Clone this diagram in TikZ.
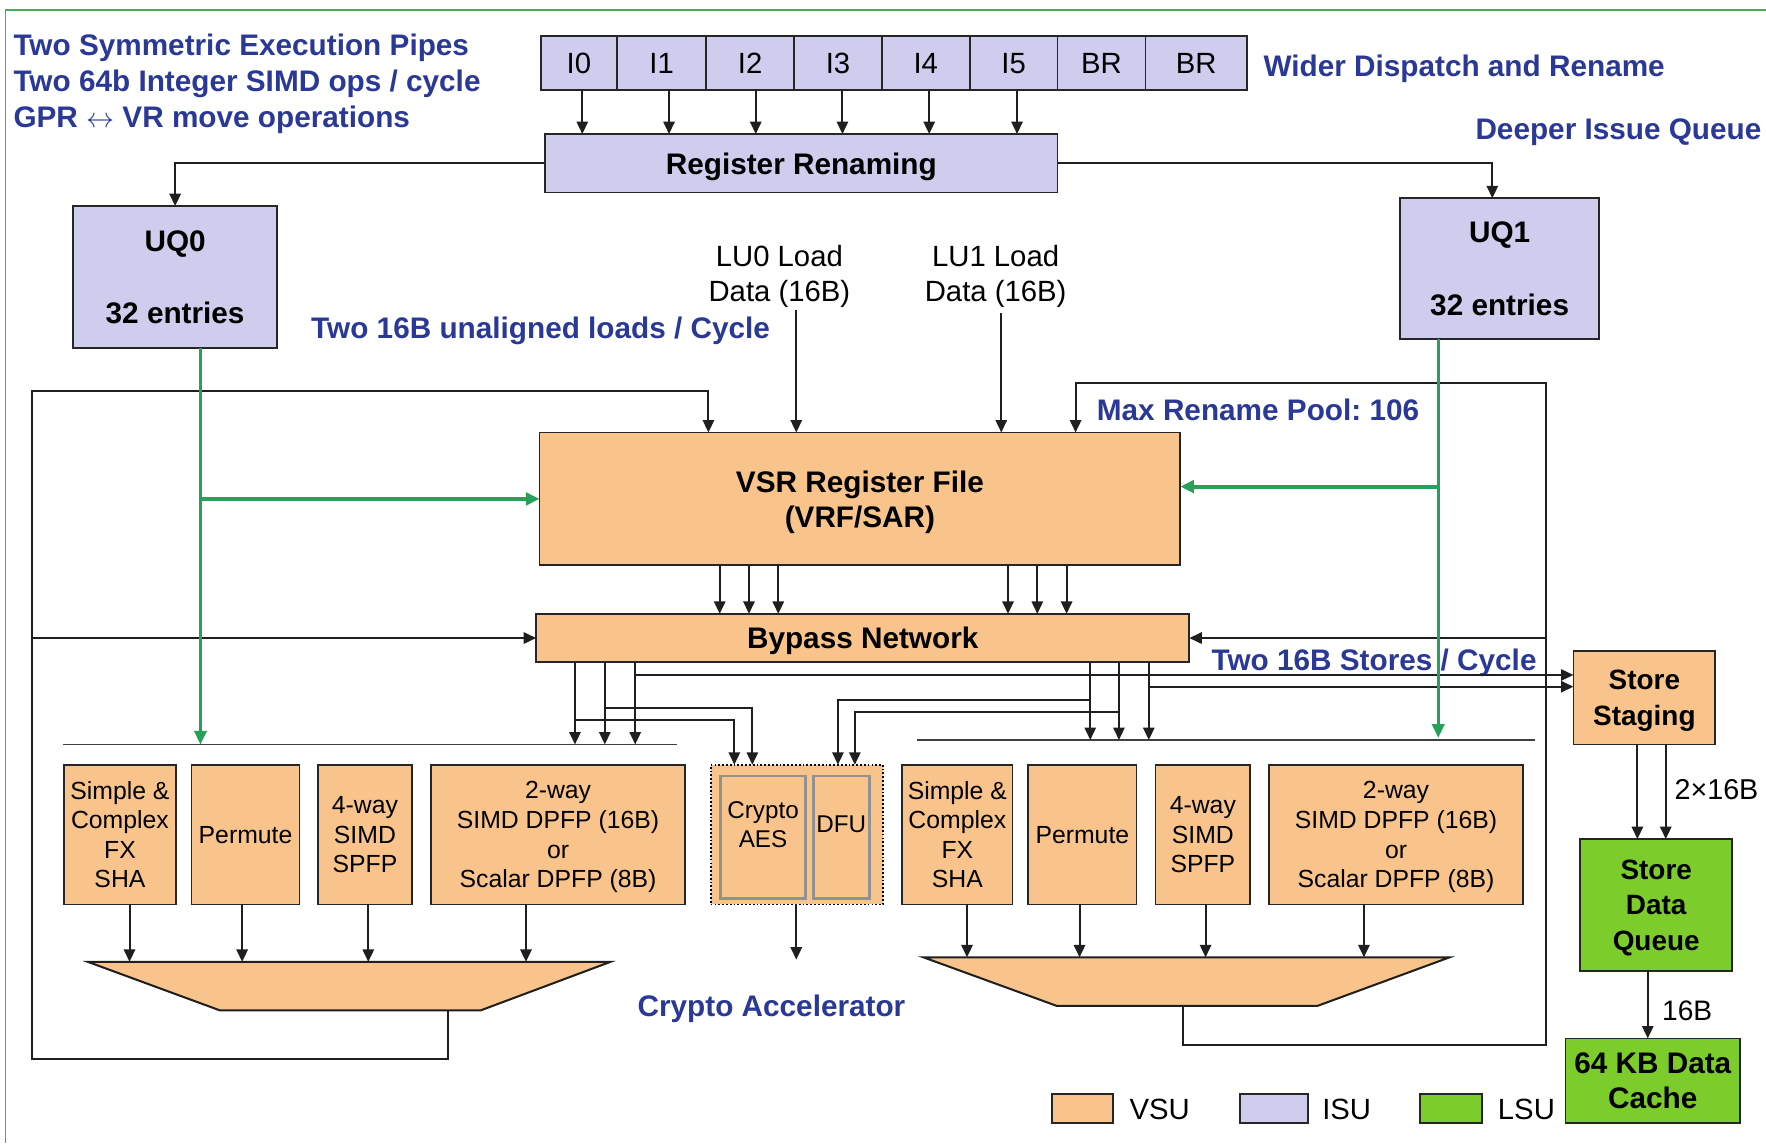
\documentclass[tikz,border=0pt]{standalone}
\usepackage{fontspec}
\setmainfont{Liberation Sans}
\usetikzlibrary{arrows.meta,calc}
\frenchspacing
\definecolor{vsucol}{RGB}{249,196,139}
\definecolor{isucol}{RGB}{207,205,237}
\definecolor{lsucol}{RGB}{124,205,44}
\definecolor{bluetxt}{RGB}{43,57,150}
\definecolor{gcol}{RGB}{40,160,90}
\definecolor{framecol}{RGB}{70,175,90}
\definecolor{grayb}{RGB}{145,145,145}
\tikzset{
  spanbox/.style n args={4}{minimum width={#3-#1}, minimum height={#4-#2}, at={({(#1+#3)/2},{(#2+#4)/2})}},
  isu/.style={draw=black!85, line width=1.6pt, fill=isucol, align=center},
  vsu/.style={draw=black!85, line width=1.6pt, fill=vsucol, align=center},
  lsu/.style={draw=black!85, line width=1.6pt, fill=lsucol, align=center},
  innerg/.style={draw=grayb, line width=2.6pt, fill=vsucol},
  conn/.style={line width=1.8pt, draw=black!88},
  arr/.style={conn, -{Triangle[length=11pt,width=10pt]}},
  garr/.style={line width=2.2pt, draw=gcol, color=gcol, -{Triangle[length=12pt,width=11pt]}},
  busline/.style={line width=1.5pt, draw=black!75},
  muxstyle/.style={draw=black!88, line width=1.8pt, fill=vsucol},
  rfont/.style={font=\fontsize{26}{31}\selectfont},
  bfont/.style={font=\fontsize{26.4}{31}\selectfont\bfseries},
  bfontm/.style={font=\fontsize{24.8}{31.5}\selectfont\bfseries},
  ufont/.style={font=\fontsize{22}{26.3}\selectfont, align=center},
  btext/.style={font=\fontsize{26.4}{32}\selectfont\bfseries, text=bluetxt},
}
\begin{document}
\begin{tikzpicture}[x=1pt,y=-1pt, every node/.style={inner sep=0pt,outer sep=0pt,text depth=0pt}, line join=miter]
\useasboundingbox (0,0) rectangle (1568,1015);
\fill[white] (0,0) rectangle (1568,1015);
\draw[framecol, line width=1.2pt] (5,1015) -- (5,9) -- (1568,9);

% ---- header texts
\node[btext, anchor=west] (h1) at (12,40) {Two Symmetric Execution Pipes};
\node[btext, anchor=west] (h2) at (12,72) {Two 64b Integer SIMD ops / cycle};
\node[btext, anchor=west] (h3) at (12,104) {GPR {\mdseries$\leftrightarrow$} VR move operations};
\node[btext] (wd) at (1300,58) {Wider Dispatch and Rename};
\node[btext] (diq) at (1437,115) {Deeper Issue Queue};
\node[btext] (ul) at (480,291) {Two 16B unaligned loads / Cycle};
\node[btext] (mrp) at (1117,364) {Max Rename Pool: 106};
\node[btext] (sto) at (1220,586) {Two 16B Stores / Cycle};
\node[btext] (cacc) at (685,893) {Crypto Accelerator};

% ---- dispatch row
\foreach \n/\a/\b/\t in {I0/480/548/I0, I1/548/627/I1, I2/627/705/I2, I3/705/783/I3, I4/783/861/I4, I5/861/939/I5, BRa/939/1017/BR, BRb/1017/1107/BR}
  \node[isu, rfont, spanbox={\a}{32}{\b}{80}] (\n) {\t};

\node[isu, bfont, spanbox={484}{119}{939}{171}] (ren) {Register Renaming};
\node[isu, bfont, spanbox={65}{183}{246}{309}] (uq0) {UQ0\\[33pt]32 entries};
\node[isu, bfont, spanbox={1243}{176}{1420}{301}] (uq1) {UQ1\\[33pt]32 entries};

\foreach \c/\x in {I0/517, I1/594, I2/671, I3/748, I4/825, I5/903}
  \draw[arr] (\x,0 |- \c.south) -- (\x,0 |- ren.north);
\draw[arr] (ren.west) -| (uq0.north);
\draw[arr] (ren.east) -| (1325,0 |- uq1.north);

% ---- load data
\node[rfont, align=center] (lu0) at (692,243) {LU0 Load\\Data (16B)};
\node[rfont, align=center] (lu1) at (884,243) {LU1 Load\\Data (16B)};

% ---- register file and bypass
\node[vsu, bfont, spanbox={479}{384}{1048}{502}] (vsr) {VSR Register File\\(VRF/SAR)};
\node[vsu, bfont, spanbox={476}{545}{1056}{588}] (byp) {Bypass Network};

\draw[arr] ($(lu0.south -| 707,0)+(0,7)$) -- (707,0 |- vsr.north);
\draw[arr] ($(lu1.south -| 889,0)+(0,10)$) -- (889,0 |- vsr.north);

\foreach \x in {639,665,691,895,921,947}
  \draw[arr] (\x,0 |- vsr.south) -- (\x,0 |- byp.north);

% ---- functional units
\node[vsu, ufont, spanbox={57}{679}{156}{803}] (fx1) {Simple \&\\Complex\\FX\\SHA};
\node[vsu, ufont, spanbox={170}{679}{266}{803}] (perm1) {Permute};
\node[vsu, ufont, spanbox={282}{679}{366}{803}] (sp1) {4-way\\SIMD\\SPFP};
\node[vsu, ufont, spanbox={383}{679}{608}{803}] (dp1) {2-way\\SIMD DPFP (16B)\\or\\Scalar DPFP (8B)};

\node[vsu, draw=black, line width=1.5pt, dash pattern=on 1.6pt off 1.8pt, spanbox={631}{679}{784}{803}] (cry) {};
\node[innerg, spanbox={640}{689}{715}{798}] (aes) {};
\node[innerg, spanbox={722}{689}{772}{798}] (dfu) {};
\node[ufont, font=\fontsize{21.5}{26}\selectfont] (aest) at (677.5,732) {Crypto\\AES};
\node[ufont, font=\fontsize{21.5}{26}\selectfont] (dfut) at (747,732) {DFU};

\node[vsu, ufont, spanbox={801}{679}{899}{803}] (fx2) {Simple \&\\Complex\\FX\\SHA};
\node[vsu, ufont, spanbox={913}{679}{1009}{803}] (perm2) {Permute};
\node[vsu, ufont, spanbox={1026}{679}{1110}{803}] (sp2) {4-way\\SIMD\\SPFP};
\node[vsu, ufont, spanbox={1127}{679}{1352}{803}] (dp2) {2-way\\SIMD DPFP (16B)\\or\\Scalar DPFP (8B)};

% ---- buses
\coordinate (bus1w) at (56,661);
\coordinate (bus1e) at (601,661);
\coordinate (bus2w) at (814,657);
\coordinate (bus2e) at (1363,657);
\draw[busline] (bus1w) -- (bus1e);
\draw[busline] (bus2w) -- (bus2e);

% ---- bypass outputs
\foreach \x in {510.5,537,564}
  \draw[arr] (\x,0 |- byp.south) -- (\x,0 |- bus1w);
\foreach \x in {968,993.5,1020}
  \draw[arr] (\x,0 |- byp.south) -- (\x,0 |- bus2w);
\draw[arr] (510.5,639) -| (652,0 |- cry.north);
\draw[arr] (537,629) -| (668,0 |- cry.north);
\draw[arr] (968,621.5) -| (744,0 |- cry.north);
\draw[arr] (993.5,632) -| (759,0 |- cry.north);

% ---- store path
\node[vsu, bfontm, spanbox={1397}{578}{1523}{661}] (stg) {Store\\Staging};
\node[lsu, bfontm, spanbox={1403}{745}{1538}{862}] (sdq) {Store\\Data\\Queue};
\node[lsu, bfont, spanbox={1390}{922}{1545}{997}] (cache) {64 KB Data\\Cache};
\draw[arr] (564,599.3) -- (stg.west |- 0,599.3);
\draw[arr] (1020,609.7) -- (stg.west |- 0,609.7);
\draw[arr] (1453.8,0 |- stg.south) -- (1453.8,0 |- sdq.north);
\draw[arr] (1479,0 |- stg.south) -- (1479,0 |- sdq.north);
\draw[arr] (1463,0 |- sdq.south) -- (1463,0 |- cache.north);
\node[rfont, font=\fontsize{25.5}{30}\selectfont] (x16) at (1524,701) {2×16B};
\node[rfont, font=\fontsize{25}{30}\selectfont] (b16) at (1498,897) {16B};

% ---- muxes
\draw[muxstyle] (78,854) -- (542,854) -- (427,897) -- (195,897) -- cycle;
\draw[muxstyle] (820,850) -- (1287,850) -- (1170,893) -- (938,893) -- cycle;
\coordinate (mux1t) at (310,854);
\coordinate (mux1b) at (398,897);
\coordinate (mux2t) at (1053,850);
\coordinate (mux2b) at (1050,893);
\coordinate (cryo) at (707,852);

\foreach \x/\n in {115/fx1, 215/perm1, 327/sp1, 467/dp1}
  \draw[arr] (\x,0 |- \n.south) -- (\x,0 |- mux1t);
\foreach \x/\n in {858.6/fx2, 958.5/perm2, 1070.4/sp2, 1211/dp2}
  \draw[arr] (\x,0 |- \n.south) -- (\x,0 |- mux2t);
\draw[arr] (707,0 |- cry.south) -- (cryo);

% ---- loopbacks
\draw[arr] (mux1b) |- (28,940) |- (629,347) -- (629,0 |- vsr.north);
\draw[arr] (28,0 |- byp.west) -- (byp.west);
\draw[arr] (mux2b) |- (1373,928) |- (955,340) -- (955,0 |- vsr.north);
\draw[arr] (1373,0 |- byp.east) -- (byp.east);

% ---- green issue paths
\draw[garr] (178,0 |- uq0.south) -- (178,0 |- bus1w);
\draw[garr, line width=3.5pt] (178,0 |- vsr.west) -- (vsr.west);
\draw[garr] (1277,0 |- uq1.south) -- (1277,655);
\draw[garr, line width=3.5pt] (1277,432) -- (vsr.east |- 0,432);

% ---- legend
\node[vsu, spanbox={934}{971}{988}{997}] (lg1) {};
\node[rfont, anchor=west] (lg1t) at (1003,985) {VSU};
\node[isu, spanbox={1101}{971}{1161}{997}] (lg2) {};
\node[rfont, anchor=west] (lg2t) at (1174,985) {ISU};
\node[lsu, spanbox={1261}{971}{1316}{997}] (lg3) {};
\node[rfont, anchor=west] (lg3t) at (1330,985) {LSU};
\end{tikzpicture}
\end{document}
